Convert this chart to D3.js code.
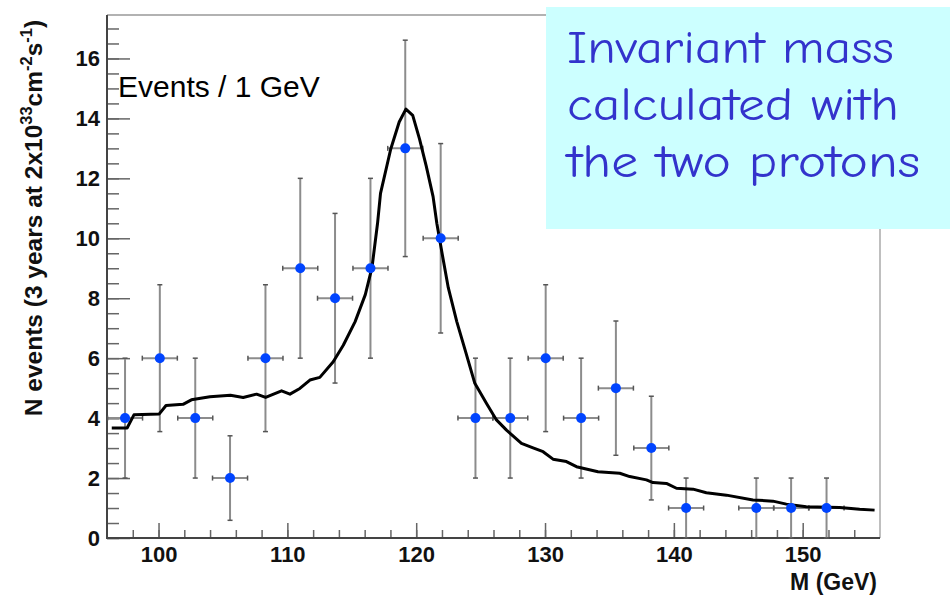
<!DOCTYPE html>
<html>
<head>
<meta charset="utf-8">
<script src="https://cdn.jsdelivr.net/npm/d3@7"></script>
<style>
  body { margin: 0; background: #fff; }
  svg { display: block; }
  .tick text { font-family: "Liberation Sans", Arial, sans-serif; font-weight: bold; font-size: 22px; fill: #111; }
  .tick line { stroke: #666; stroke-width: 1.5; }
</style>
</head>
<body>
<div id="mass_plot"></div>
<script>
const target = "#mass_plot" // div the plot goes into

var width = 950;
var height = 595;

// measured points: bin centre (GeV), events, error
var massBins = [97.4, 100.1, 102.85, 105.55, 108.3, 111.0, 113.7, 116.45, 119.15, 121.9,
                124.6, 127.3, 130.05, 132.8, 135.5, 138.25, 140.95, 146.4, 149.1, 151.85];
var counts = [4, 6, 4, 2, 6, 9, 8, 9, 13, 10, 4, 4, 6, 4, 5, 3, 1, 1, 1, 1];
var countErrs = [2, 2.45, 2, 1.41, 2.45, 3, 2.83, 3, 3.61, 3.16, 2, 2, 2.45, 2, 2.24, 1.73, 1, 1, 1, 1];
var binHalf = 1.36;

// expected shape (signal + background)
var fitMass = [96.37, 97.56, 98.09, 100.06, 100.58, 101.9, 102.55, 103.99, 105.58, 106.57,
               107.61, 108.31, 109.55, 110.2, 110.97, 111.75, 112.52, 113.56, 114.34, 115.26,
               116.05, 116.57, 117.0, 117.23, 118.02, 118.68, 119.2, 119.73, 120.26, 120.78,
               121.31, 121.6, 121.97, 122.49, 123.15, 123.8, 124.55, 125.46, 126.23, 127.01,
               128.17, 129.07, 129.85, 130.62, 131.66, 132.44, 134.11, 135.8, 136.57, 137.87,
               138.38, 139.42, 140.2, 141.49, 142.52, 144.08, 146.14, 147.69, 148.73, 150.28,
               152.87, 154.42, 155.58];
var fitValue = [3.67, 3.67, 4.11, 4.14, 4.42, 4.46, 4.61, 4.71, 4.76, 4.69,
                4.8, 4.69, 4.91, 4.8, 4.99, 5.27, 5.36, 5.88, 6.43, 7.22,
                8.12, 9.03, 10.5, 11.5, 12.97, 13.88, 14.31, 14.1, 13.31, 12.41,
                11.39, 10.5, 9.59, 8.35, 7.22, 6.27, 5.16, 4.49, 3.94, 3.6,
                3.16, 3.01, 2.88, 2.63, 2.55, 2.38, 2.21, 2.16, 2.05, 1.94,
                1.85, 1.82, 1.66, 1.63, 1.51, 1.43, 1.27, 1.23, 1.13, 1.04,
                1.02, 0.96, 0.93];

var xTicks = [100, 110, 120, 130, 140, 150];
var yTicks = [0, 2, 4, 6, 8, 10, 12, 14, 16];
var boxLines = ["Invariant mass", "calculated with", "the two protons"];

// frame edges (window.top is taken, so prefix them)
var frameL = 107, frameR = 880, frameT = 15, frameB = 538;

var svg = d3.select(target)
  .append("svg")
    .attr("width", width)
    .attr("height", height);

var x = d3.scaleLinear().domain([96, 156]).range([frameL, frameR]);
var y = d3.scaleLinear().domain([0, 17.45]).range([frameB, frameT]);

// minor ticks first, majors on top
svg.append("g")
    .attr("transform", "translate(0," + frameB + ")")
    .call(d3.axisBottom(x).tickValues(d3.range(98, 156, 2)).tickSize(-8).tickFormat(""))
    .call(g => g.select(".domain").remove());
svg.append("g")
    .attr("transform", "translate(" + frameL + ",0)")
    .call(d3.axisLeft(y).tickValues(d3.range(0, 17.5, 0.5)).tickSize(-12).tickFormat(""))
    .call(g => g.select(".domain").remove());

svg.append("g")
    .attr("transform", "translate(0," + frameB + ")")
    .call(d3.axisBottom(x).tickValues(xTicks).tickSize(-15).tickPadding(8))
    .call(g => g.select(".domain").remove());
svg.append("g")
    .attr("transform", "translate(" + frameL + ",0)")
    .call(d3.axisLeft(y).tickValues(yTicks).tickSize(-23).tickPadding(7))
    .call(g => g.select(".domain").remove());

// frame
svg.append("line").attr("x1", frameL).attr("x2", frameR).attr("y1", frameT).attr("y2", frameT)
    .attr("stroke", "#999").attr("stroke-width", 1.5);
svg.append("line").attr("x1", frameR).attr("x2", frameR).attr("y1", frameT).attr("y2", frameB)
    .attr("stroke", "#aaa").attr("stroke-width", 1.5);
svg.append("line").attr("x1", frameL).attr("x2", frameL).attr("y1", frameT).attr("y2", frameB + 1)
    .attr("stroke", "#444").attr("stroke-width", 2);
svg.append("line").attr("x1", frameL - 1).attr("x2", frameR).attr("y1", frameB).attr("y2", frameB)
    .attr("stroke", "#444").attr("stroke-width", 2);

// error bars
var pts = massBins.map(function(m, i) { return { m: m, n: counts[i], e: countErrs[i] }; });

var bars = svg.append("g");
bars.selectAll(".vbar").data(pts).enter().append("line")
    .attr("x1", d => x(d.m)).attr("x2", d => x(d.m))
    .attr("y1", d => y(d.n + d.e)).attr("y2", d => y(Math.max(0, d.n - d.e)))
    .attr("stroke", "#8c8c8c").attr("stroke-width", 2);
bars.selectAll(".hbar").data(pts).enter().append("line")
    .attr("x1", d => x(d.m - binHalf)).attr("x2", d => x(d.m + binHalf))
    .attr("y1", d => y(d.n)).attr("y2", d => y(d.n))
    .attr("stroke", "#8c8c8c").attr("stroke-width", 2);
// little end caps
bars.selectAll(".vcap").data(pts.flatMap(d => [[d.m, d.n + d.e], [d.m, Math.max(0, d.n - d.e)]]))
  .enter().append("line")
    .attr("x1", d => x(d[0]) - 2.5).attr("x2", d => x(d[0]) + 2.5)
    .attr("y1", d => y(d[1])).attr("y2", d => y(d[1]))
    .attr("stroke", "#555").attr("stroke-width", 1.5);
bars.selectAll(".hcap").data(pts.flatMap(d => [[d.m - binHalf, d.n], [d.m + binHalf, d.n]]))
  .enter().append("line")
    .attr("x1", d => x(d[0])).attr("x2", d => x(d[0]))
    .attr("y1", d => y(d[1]) - 2.5).attr("y2", d => y(d[1]) + 2.5)
    .attr("stroke", "#555").attr("stroke-width", 1.5);

// expected curve
var fit = fitMass.map((m, i) => [m, fitValue[i]]);
svg.append("path")
    .datum(fit)
    .attr("fill", "none")
    .attr("stroke", "#000")
    .attr("stroke-width", 3)
    .attr("stroke-linejoin", "round")
    .attr("d", d3.line().x(d => x(d[0])).y(d => y(d[1])));

svg.selectAll(".pt").data(pts).enter().append("circle")
    .attr("cx", d => x(d.m)).attr("cy", d => y(d.n))
    .attr("r", 5)
    .attr("fill", "#0044ff");

// labels
svg.append("text")
    .attr("x", 118).attr("y", 97)
    .attr("font-family", "Liberation Sans, Arial, sans-serif")
    .attr("font-size", 30)
    .attr("fill", "#000")
    .text("Events / 1 GeV");

svg.append("text")
    .attr("x", 877).attr("y", 590)
    .attr("text-anchor", "end")
    .attr("font-family", "Liberation Sans, Arial, sans-serif")
    .attr("font-weight", "bold")
    .attr("font-size", 23)
    .attr("fill", "#111")
    .text("M (GeV)");

var ytitle = svg.append("text")
    .attr("transform", "translate(42,218) rotate(-90)")
    .attr("text-anchor", "middle")
    .attr("font-family", "Liberation Sans, Arial, sans-serif")
    .attr("font-weight", "bold")
    .attr("font-size", 24.5)
    .attr("fill", "#111");
var parts = [["N events (3 years at 2x10", false], ["33", true], ["cm", false], ["-2", true],
             ["s", false], ["-1", true], [")", false]];
parts.forEach(function(p, i) {
  var prevSup = i > 0 && parts[i - 1][1];
  ytitle.append("tspan")
      .attr("font-size", p[1] ? 16.5 : 24.5)
      .attr("dy", p[1] ? -10 : (prevSup ? 10 : 0))
      .text(p[0]);
});

// note box
svg.append("rect")
    .attr("x", 546).attr("y", 7)
    .attr("width", 404).attr("height", 222)
    .attr("fill", "#ccffff");

var lineY = [63, 120, 177];
var lineW = [327, 332, 353];
svg.selectAll(".note").data(boxLines).enter().append("text")
    .attr("x", 567)
    .attr("y", (d, i) => lineY[i])
    .attr("textLength", (d, i) => lineW[i])
    .attr("lengthAdjust", "spacingAndGlyphs")
    .attr("font-family", "Comic Sans MS, Comic Neue, Noto Sans, sans-serif")
    .attr("font-size", 46)
    .attr("fill", "#3333cc")
    .text(d => d);
</script>
</body>
</html>
